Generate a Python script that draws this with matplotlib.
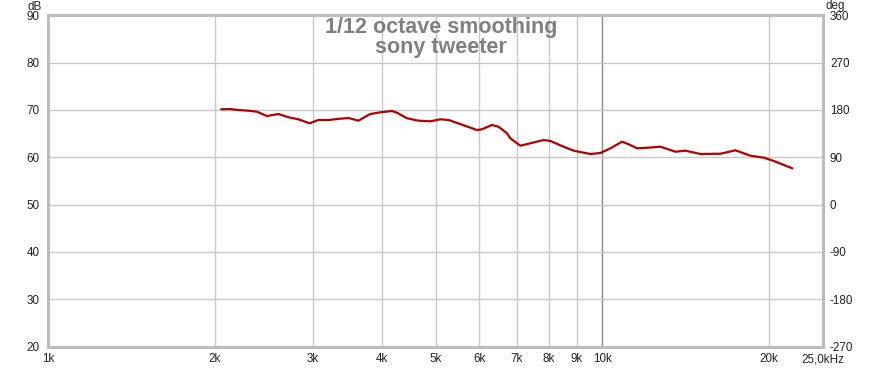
import matplotlib
matplotlib.use("Agg")
import matplotlib.pyplot as plt
import numpy as np

# Frequency response (Hz, dB)
freq_hz = [2053, 2131, 2206, 2299, 2381, 2482, 2604, 2716, 2830, 2963,
           3075, 3206, 3366, 3485, 3632, 3735, 3813, 3975, 4173, 4260,
           4442, 4661, 4893, 5100, 5279, 5541, 5939, 6063, 6322, 6497,
           6729, 6822, 7112, 7413, 7834, 8055, 8512, 8877, 9513, 9917,
           10337, 10853, 11156, 11550, 12210, 12730, 13547, 14120, 15028, 16331,
           17380, 18497, 19548, 20382, 22003]
spl_db = [70.15, 70.2, 70.0, 69.85, 69.64, 68.73, 69.15, 68.46, 68.03, 67.19,
          67.89, 67.89, 68.16, 68.31, 67.74, 68.58, 69.15, 69.51, 69.79, 69.43,
          68.25, 67.74, 67.61, 68.03, 67.89, 67.04, 65.77, 65.92, 66.83, 66.47,
          65.07, 64.02, 62.45, 62.96, 63.66, 63.45, 62.24, 61.40, 60.70, 60.91,
          61.90, 63.30, 62.75, 61.90, 62.07, 62.24, 61.18, 61.40, 60.70, 60.76,
          61.48, 60.34, 59.92, 59.22, 57.67]

x_ticks = [1000, 2000, 3000, 4000, 5000, 6000, 7000, 8000, 9000, 10000, 20000, 25000]
x_labels = ["1k", "2k", "3k", "4k", "5k", "6k", "7k", "8k", "9k", "10k", "20k", "25,0kHz"]
db_ticks = [20, 30, 40, 50, 60, 70, 80, 90]
deg_ticks = [-270, -180, -90, 0, 90, 180, 270, 360]

title_lines = ["1/12 octave smoothing", "sony tweeter"]

plt.rcParams['font.family'] = ['Liberation Sans', 'DejaVu Sans']

W, H = 881, 368
fig = plt.figure(figsize=(W / 100, H / 100), dpi=100)
left, right, top, bottom = 48, 823, 15.4, 346.5
ax = fig.add_axes([left / W, 1 - bottom / H, (right - left) / W, (bottom - top) / H])

ax.set_xscale('log')
ax.set_xlim(1000, 25000)
ax.set_ylim(20, 90)

grid_c = '#c8c8c8'
for f in x_ticks[1:-1]:
    ax.axvline(f, color='#8a8a8a' if f == 10000 else grid_c, lw=1.0, zorder=1)
for d in db_ticks[1:-1]:
    ax.axhline(d, color=grid_c, lw=1.0, zorder=1)

ax.plot(freq_hz, spl_db, color='#b00000', lw=1.6, zorder=3,
        solid_joinstyle='round', solid_capstyle='round')

fs = 8.4
ax.set_xticks(x_ticks)
ax.set_xticklabels(x_labels)
ax.xaxis.set_minor_locator(matplotlib.ticker.NullLocator())
ax.set_yticks(db_ticks)
ax.set_yticklabels([str(v) for v in db_ticks])
ax.tick_params(axis='both', length=0, labelsize=fs, colors='#222222')
ax.tick_params(axis='x', pad=5)
ax.tick_params(axis='y', pad=6)

ax2 = ax.twinx()
ax2.set_ylim(-270, 360)
ax2.set_yticks(deg_ticks)
ax2.set_yticklabels([str(v) for v in deg_ticks])
ax2.tick_params(axis='y', length=0, labelsize=fs, colors='#222222', pad=5)

for a in (ax, ax2):
    for s in a.spines.values():
        s.set_color('#bdbdbd')
        s.set_linewidth(2.2)

fig.text(27 / W, 1 - 0.5 / H, "dB", fontsize=fs, color='#222222', ha='left', va='top')
fig.text(826 / W, 1 - 0 / H, "deg", fontsize=fs, color='#222222', ha='left', va='top')

ax.text(0.5075, 1 - (27 - top) / (bottom - top), title_lines[0], transform=ax.transAxes,
        ha='center', va='center', fontsize=15.5, fontweight='bold', color='#808080', zorder=4)
ax.text(0.5075, 1 - (48 - top) / (bottom - top), title_lines[1], transform=ax.transAxes,
        ha='center', va='center', fontsize=15.5, fontweight='bold', color='#808080', zorder=4)

fig.savefig("out.png", dpi=100, facecolor='white')
